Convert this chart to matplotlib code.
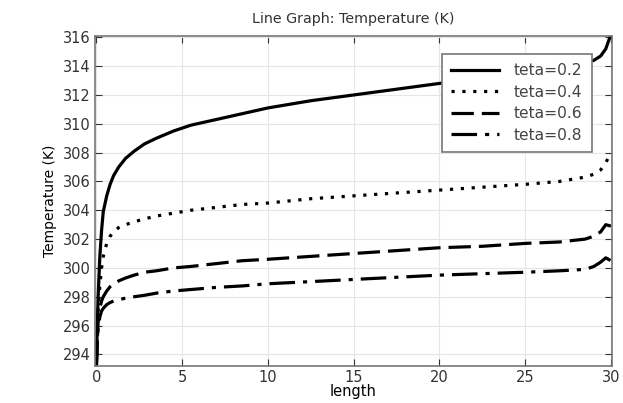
import numpy as np
import matplotlib.pyplot as plt

# values
x = [0.0, 0.05, 0.1, 0.2, 0.3, 0.4, 0.6, 0.8, 1.0, 1.3, 1.7, 2.2, 2.8, 3.5, 4.5,
     5.5, 7.0, 8.5, 10.0, 12.5, 15.0, 17.5, 20.0, 22.5, 25.0, 27.0, 28.5, 29.0,
     29.4, 29.7, 30.0]
t02 = [293.2, 296.0, 298.0, 300.8, 302.6, 303.9, 305.0, 305.8, 306.4, 307.0, 307.6,
       308.1, 308.6, 309.0, 309.5, 309.9, 310.3, 310.7, 311.1, 311.6, 312.0, 312.4,
       312.8, 313.2, 313.6, 313.9, 314.2, 314.4, 314.7, 315.2, 316.2]
t04 = [293.2, 295.5, 297.0, 298.8, 300.0, 300.8, 301.7, 302.2, 302.5, 302.8, 303.0,
       303.2, 303.4, 303.6, 303.8, 304.0, 304.2, 304.4, 304.5, 304.8, 305.0, 305.2,
       305.4, 305.6, 305.8, 306.0, 306.3, 306.5, 306.8, 307.3, 308.0]
t06 = [293.2, 295.0, 296.2, 297.2, 297.7, 298.0, 298.4, 298.7, 298.9, 299.1, 299.3,
       299.5, 299.7, 299.8, 300.0, 300.1, 300.3, 300.5, 300.6, 300.8, 301.0, 301.2,
       301.4, 301.5, 301.7, 301.8, 302.0, 302.2, 302.5, 303.0, 302.9]
t08 = [293.2, 294.8, 295.8, 296.6, 297.0, 297.2, 297.45, 297.6, 297.7, 297.8, 297.9,
       298.0, 298.1, 298.25, 298.4, 298.5, 298.65, 298.75, 298.9, 299.05, 299.2,
       299.35, 299.5, 299.6, 299.7, 299.8, 299.9, 300.1, 300.4, 300.7, 300.5]

labels = ['teta=0.2', 'teta=0.4', 'teta=0.6', 'teta=0.8']
styles = ['-', (0, (1, 2.4)), (0, (7, 2.5)), (0, (8, 2.5, 1.3, 2.5))]

plt.rcParams['text.color'] = '#333333'

fig = plt.figure(figsize=(6.23, 4.03), dpi=100)
ax = fig.add_axes([0.152, 0.092, 0.830, 0.819])

for y, lab, ls in zip([t02, t04, t06, t08], labels, styles):
    ax.plot(x, y, color='black', linestyle=ls, linewidth=2.3, label=lab)

ax.set_xlim(-0.1, 30.05)
ax.set_ylim(293.2, 316.1)
ax.set_xticks(range(0, 31, 5))
ax.set_yticks(range(294, 317, 2))
ax.tick_params(direction='in', top=True, right=True, length=5, colors='#333333',
               labelcolor='#333333', labelsize=10.5, pad=3)
ax.grid(True, color='#e6e6e6', linewidth=0.8)
for s in ax.spines.values():
    s.set_color('#777777')
    s.set_linewidth(1.2)

ax.set_title('Line Graph: Temperature (K)', fontsize=10.3, color='#333333', pad=9)
ax.set_xlabel('length', fontsize=10.5, labelpad=-1)
ax.set_ylabel('Temperature (K)', fontsize=10)

leg = ax.legend(loc='upper left', bbox_to_anchor=(0.671, 0.946), borderaxespad=0,
                fontsize=11.2, labelcolor='#444444',
                fancybox=False, framealpha=1, edgecolor='#777777',
                handlelength=3.1, borderpad=0.6, labelspacing=0.42,
                handletextpad=0.95)
leg.get_frame().set_linewidth(1.2)

fig.savefig('out.png', dpi=100)
